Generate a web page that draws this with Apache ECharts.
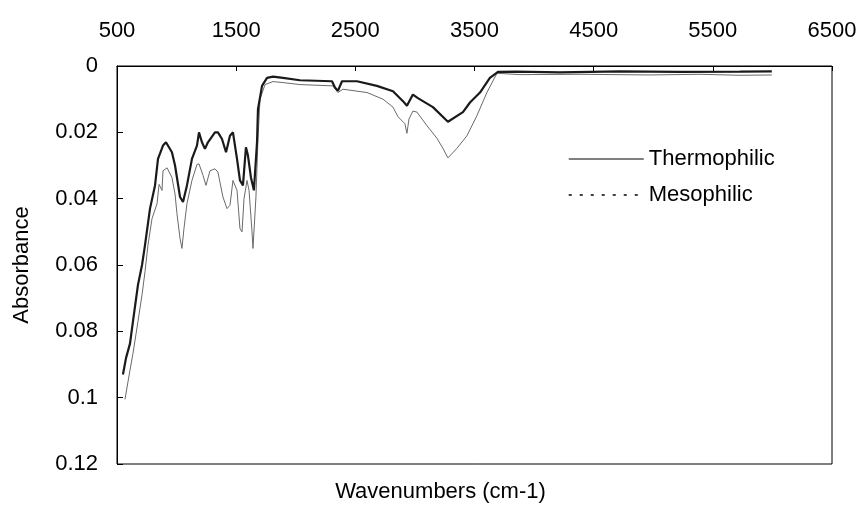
<!DOCTYPE html>
<html>
<head>
<meta charset="utf-8">
<script src="https://cdn.jsdelivr.net/npm/echarts@6/dist/echarts.min.js"></script>
<style>html,body{margin:0;padding:0;background:#fff;}#c{width:863px;height:508px;}</style>
</head>
<body>
<div id="c"></div>
<script>
// Tick labels
const xTicks = [500, 1500, 2500, 3500, 4500, 5500, 6500];
const yTicks = [0, 0.02, 0.04, 0.06, 0.08, 0.1, 0.12];
const seriesNames = ['Thermophilic', 'Mesophilic'];

// Thermophilic (wavenumber, absorbance)
const thermoX = [550, 576, 609, 634, 676, 710, 735, 777, 819, 844, 886, 911, 961, 987, 1029, 1054, 1087, 1129, 1171, 1188, 1213, 1238, 1263, 1322, 1347, 1381, 1415, 1448, 1473, 1507, 1532, 1557, 1582, 1599, 1624, 1649, 1675, 1683, 1717, 1759, 1809, 1893, 2035, 2304, 2329, 2354, 2388, 2514, 2681, 2816, 2900, 2933, 2983, 3025, 3151, 3277, 3403, 3462, 3546, 3629, 3697, 3856, 4217, 4720, 5224, 5727, 5995];
const thermoY = [0.093, 0.088, 0.0837, 0.077, 0.066, 0.060, 0.054, 0.043, 0.036, 0.028, 0.024, 0.023, 0.026, 0.030, 0.0395, 0.041, 0.036, 0.028, 0.024, 0.020, 0.023, 0.025, 0.023, 0.020, 0.020, 0.022, 0.026, 0.021, 0.020, 0.028, 0.0345, 0.036, 0.0245, 0.027, 0.0336, 0.0375, 0.023, 0.013, 0.006, 0.0036, 0.0032, 0.0036, 0.0043, 0.0046, 0.0065, 0.0075, 0.0046, 0.0046, 0.006, 0.0076, 0.0106, 0.012, 0.0086, 0.0097, 0.0124, 0.0168, 0.0139, 0.011, 0.008, 0.0036, 0.0018, 0.0017, 0.0019, 0.0016, 0.0018, 0.0017, 0.0016];

// Mesophilic (wavenumber, absorbance)
const mesoX = [567, 609, 634, 676, 710, 735, 760, 794, 836, 853, 878, 886, 920, 961, 987, 1003, 1029, 1045, 1062, 1087, 1129, 1171, 1188, 1222, 1247, 1280, 1322, 1347, 1389, 1423, 1448, 1473, 1507, 1532, 1549, 1566, 1591, 1608, 1633, 1641, 1666, 1683, 1700, 1742, 1809, 1893, 2035, 2312, 2354, 2396, 2598, 2732, 2816, 2858, 2916, 2933, 2950, 2983, 3017, 3101, 3185, 3235, 3277, 3353, 3437, 3520, 3604, 3688, 3881, 4385, 4972, 5392, 5727, 5995];
const mesoY = [0.1005, 0.0917, 0.0867, 0.077, 0.069, 0.062, 0.054, 0.046, 0.0415, 0.0357, 0.0375, 0.0316, 0.0307, 0.0336, 0.0386, 0.0445, 0.052, 0.055, 0.049, 0.0415, 0.0345, 0.0297, 0.0295, 0.033, 0.036, 0.0316, 0.031, 0.032, 0.0395, 0.043, 0.042, 0.0345, 0.0375, 0.049, 0.050, 0.040, 0.0345, 0.0375, 0.050, 0.055, 0.0395, 0.022, 0.010, 0.0056, 0.0047, 0.005, 0.0056, 0.006, 0.008, 0.007, 0.008, 0.010, 0.0124, 0.0153, 0.0174, 0.0203, 0.016, 0.0136, 0.0139, 0.018, 0.0218, 0.0248, 0.0277, 0.0248, 0.021, 0.015, 0.008, 0.0022, 0.0026, 0.0025, 0.0027, 0.0025, 0.0028, 0.0027];

const pair = (xs, ys) => xs.map((x, i) => [x, ys[i]]);
const FONT = '"Liberation Sans", Arial, sans-serif';

const chart = echarts.init(document.getElementById('c'), null, {renderer: 'canvas'});
chart.setOption({
  animation: false,
  backgroundColor: '#ffffff',
  grid: {left: 117, right: 31, top: 66, bottom: 35, show: true, borderColor: '#000', borderWidth: 1, backgroundColor: 'transparent'},
  legend: {
    orient: 'vertical', left: 563, top: 143, itemWidth: 75, itemHeight: 14, itemGap: 14,
    textStyle: {fontFamily: FONT, fontSize: 22, color: '#000'},
    data: [
      {name: seriesNames[0], itemStyle: {color: 'rgba(0,0,0,0)', borderWidth: 0, opacity: 0}, lineStyle: {color: '#555', width: 1.5, type: 'solid'}},
      {name: seriesNames[1], itemStyle: {color: 'rgba(0,0,0,0)', borderWidth: 0, opacity: 0}, lineStyle: {color: '#000', width: 1.5, type: [3, 8]}}
    ]
  },
  xAxis: [{
    type: 'value', position: 'top', min: xTicks[0], max: xTicks[xTicks.length - 1], interval: 1000,
    axisLine: {show: true, lineStyle: {color: '#000', width: 1}},
    axisTick: {show: true, inside: true, length: 5, lineStyle: {color: '#000'}},
    axisLabel: {fontFamily: FONT, fontSize: 22, color: '#000', margin: 24, formatter: v => String(v)},
    splitLine: {show: false}
  }, {
    type: 'value', position: 'bottom', min: xTicks[0], max: xTicks[xTicks.length - 1],
    axisLine: {show: false}, axisTick: {show: false}, axisLabel: {show: false}, splitLine: {show: false},
    name: 'Wavenumbers (cm-1)', nameLocation: 'middle', nameGap: 17,
    nameTextStyle: {fontFamily: FONT, fontSize: 22, color: '#000', padding: [0, 68, 0, 0]}
  }],
  yAxis: {
    type: 'value', inverse: true, min: yTicks[0], max: yTicks[yTicks.length - 1], interval: 0.02,
    axisLine: {show: true, lineStyle: {color: '#000', width: 1}},
    axisTick: {show: true, inside: true, length: 6, lineStyle: {color: '#000'}},
    axisLabel: {fontFamily: FONT, fontSize: 22, color: '#000', margin: 19},
    splitLine: {show: false},
    name: 'Absorbance', nameLocation: 'middle', nameGap: 84,
    nameTextStyle: {fontFamily: FONT, fontSize: 22, color: '#000'}
  },
  series: [
    {name: seriesNames[0], type: 'line', xAxisIndex: 0, data: pair(thermoX, thermoY), symbol: 'none', lineStyle: {color: '#1a1a1a', width: 2.2}, z: 3},
    {name: seriesNames[1], type: 'line', xAxisIndex: 0, data: pair(mesoX, mesoY), symbol: 'none', lineStyle: {color: '#6a6a6a', width: 1}, z: 2}
  ]
});
</script>
</body>
</html>
